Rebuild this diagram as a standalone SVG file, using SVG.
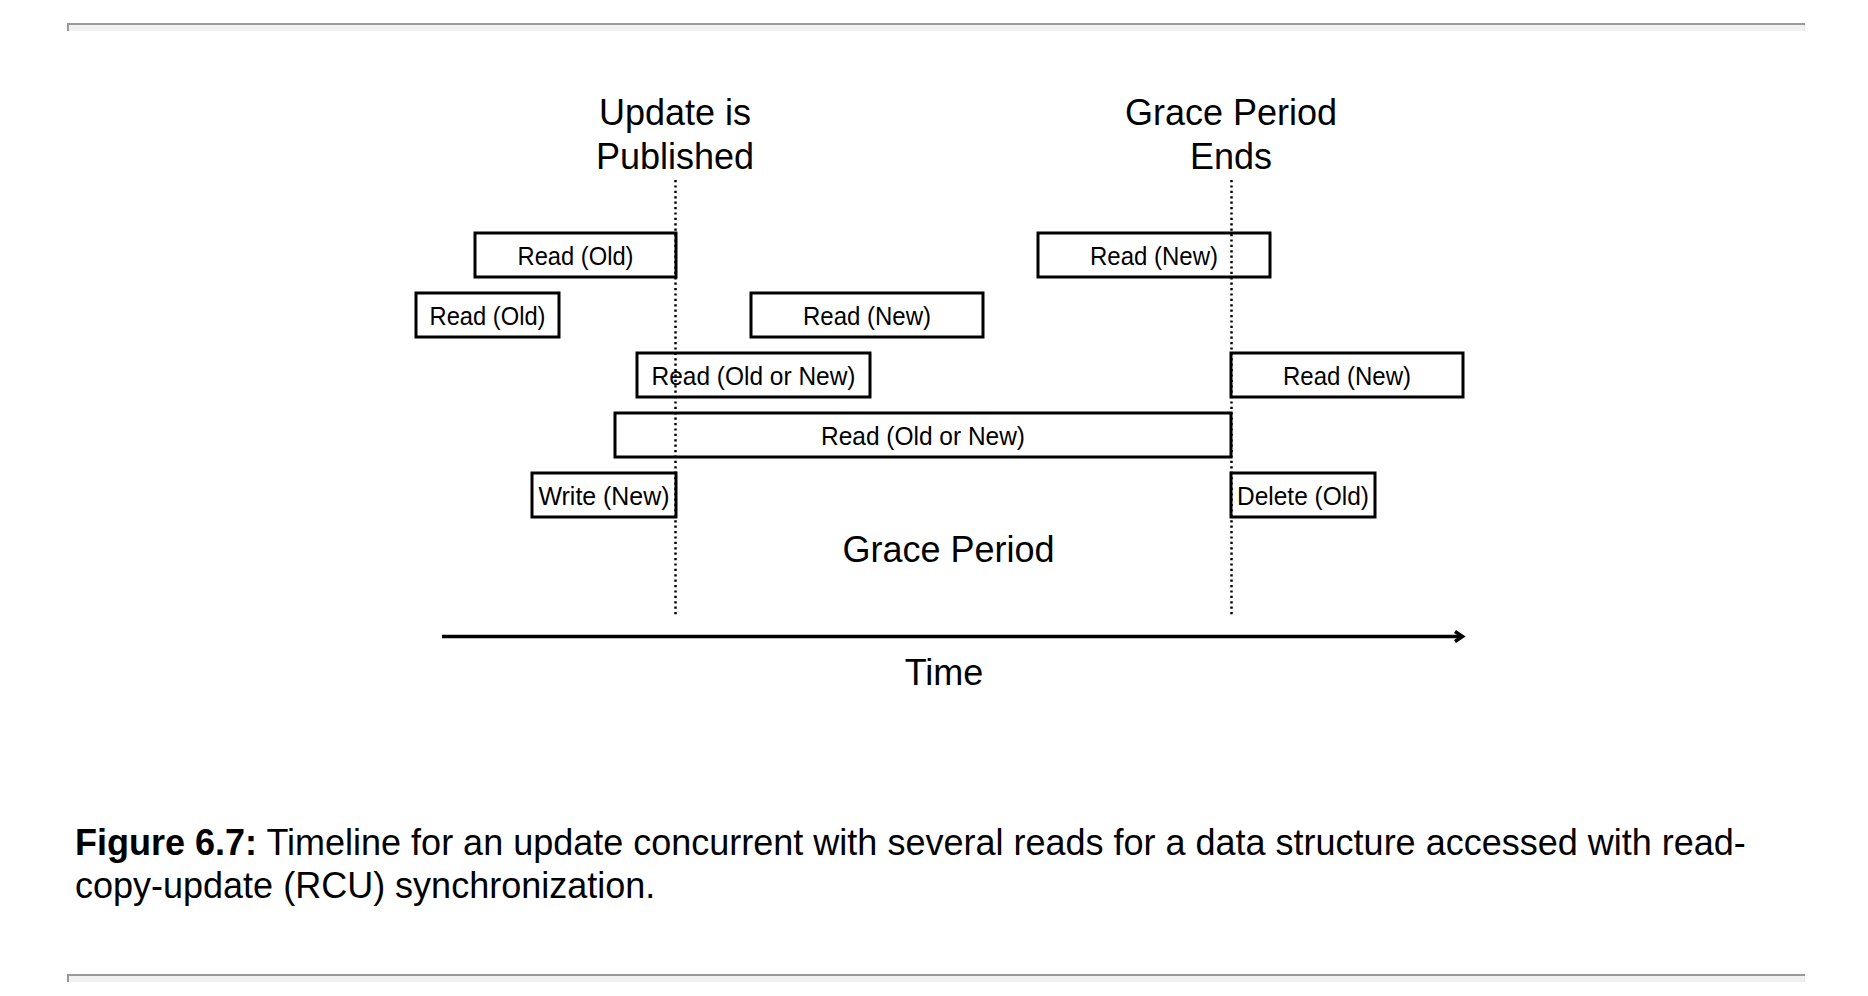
<svg xmlns="http://www.w3.org/2000/svg" width="1868" height="996" viewBox="0 0 1868 996">
  <style>
    .box { fill: #ffffff; stroke: #000000; stroke-width: 3; }
    .lbl { font-family: "Liberation Sans", Arial, sans-serif; font-size: 26px; fill: #000; text-anchor: middle; }
    .title { font-family: "Liberation Sans", Arial, sans-serif; font-size: 36px; fill: #000; text-anchor: middle; }
    .cap { font-family: "Liberation Sans", Arial, sans-serif; font-size: 36px; fill: #000; }
    .dot { stroke: #000; stroke-width: 2.5; stroke-dasharray: 2.2 3.2; fill: none; }
    .axis { stroke: #000; stroke-width: 3.5; fill: none; }
  </style>
  <rect width="1868" height="996" fill="#ffffff"/>

  <g id="rule-top">
    <rect x="67" y="23" width="1738" height="8" fill="#f1f1f1"/>
    <line x1="67" y1="24" x2="1805" y2="24" stroke="#999999" stroke-width="2"/>
    <line x1="68" y1="23" x2="68" y2="31" stroke="#999999" stroke-width="2"/>
    <line x1="1804.5" y1="25" x2="1804.5" y2="31" stroke="#e4e4e4" stroke-width="1"/>
  </g>

  <g id="title-update">
    <text class="title" x="675" y="125">Update is</text>
    <text class="title" x="675" y="169">Published</text>
  </g>
  <g id="title-grace-ends">
    <text class="title" x="1231" y="125">Grace Period</text>
    <text class="title" x="1231" y="169">Ends</text>
  </g>

  <g id="read-old-1">
    <rect class="box" x="475" y="233" width="201" height="44"/>
    <text class="lbl" x="575.5" y="264.5" textLength="116" lengthAdjust="spacingAndGlyphs">Read (Old)</text>
  </g>
  <g id="read-new-1">
    <rect class="box" x="1038" y="233" width="232" height="44"/>
    <text class="lbl" x="1154" y="264.5" textLength="128" lengthAdjust="spacingAndGlyphs">Read (New)</text>
  </g>
  <g id="read-old-2">
    <rect class="box" x="416" y="293" width="143" height="44"/>
    <text class="lbl" x="487.5" y="324.5" textLength="116" lengthAdjust="spacingAndGlyphs">Read (Old)</text>
  </g>
  <g id="read-new-2">
    <rect class="box" x="751" y="293" width="232" height="44"/>
    <text class="lbl" x="867" y="324.5" textLength="128" lengthAdjust="spacingAndGlyphs">Read (New)</text>
  </g>
  <g id="read-old-or-new-1">
    <rect class="box" x="637" y="353" width="233" height="44"/>
    <text class="lbl" x="753.5" y="384.5" textLength="204" lengthAdjust="spacingAndGlyphs">Read (Old or New)</text>
  </g>
  <g id="read-new-3">
    <rect class="box" x="1231" y="353" width="232" height="44"/>
    <text class="lbl" x="1347" y="384.5" textLength="128" lengthAdjust="spacingAndGlyphs">Read (New)</text>
  </g>
  <g id="read-old-or-new-2">
    <rect class="box" x="615" y="413" width="616" height="44"/>
    <text class="lbl" x="923" y="444.5" textLength="204" lengthAdjust="spacingAndGlyphs">Read (Old or New)</text>
  </g>
  <g id="write-new">
    <rect class="box" x="532" y="473" width="144" height="44"/>
    <text class="lbl" x="604" y="504.5" textLength="131" lengthAdjust="spacingAndGlyphs">Write (New)</text>
  </g>
  <g id="delete-old">
    <rect class="box" x="1231" y="473" width="144" height="44"/>
    <text class="lbl" x="1303" y="504.5" textLength="132" lengthAdjust="spacingAndGlyphs">Delete (Old)</text>
  </g>

  <g id="grace-period-label">
    <text class="title" x="948.5" y="562">Grace Period</text>
  </g>

  <g id="connectors">
    <line class="dot" x1="675.5" y1="180" x2="675.5" y2="616"/>
    <line class="dot" x1="1231.5" y1="180" x2="1231.5" y2="616"/>
    <line class="axis" x1="442" y1="636.5" x2="1462" y2="636.5"/>
    <polyline class="axis" points="1455,631.5 1462.5,636.5 1455,641.5" stroke-width="2.5"/>
  </g>

  <g id="time-label">
    <text class="title" x="944" y="685">Time</text>
  </g>

  <g id="caption">
    <text class="cap" x="75" y="855"><tspan font-weight="bold">Figure 6.7:</tspan> Timeline for an update concurrent with several reads for a data structure accessed with read-</text>
    <text class="cap" x="75" y="898">copy-update (RCU) synchronization.</text>
  </g>

  <g id="rule-bottom">
    <rect x="67" y="974" width="1738" height="8" fill="#f1f1f1"/>
    <line x1="67" y1="975" x2="1805" y2="975" stroke="#999999" stroke-width="2"/>
    <line x1="68" y1="974" x2="68" y2="982" stroke="#999999" stroke-width="2"/>
    <line x1="1804.5" y1="976" x2="1804.5" y2="982" stroke="#e4e4e4" stroke-width="1"/>
  </g>
</svg>
